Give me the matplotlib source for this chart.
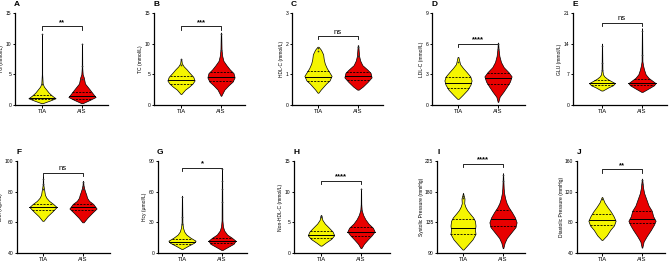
import numpy as np
import matplotlib.pyplot as plt

plt.rcParams['font.family'] = ['Liberation Sans', 'DejaVu Sans']

# panel texts
letters = ["A", "B", "C", "D", "E", "F", "G", "H", "I", "J"]
ylabels = ["TG (mmol/L)", "TC (mmol/L)", "HDL-C (mmol/L)", "LDL-C (mmol/L)", "GLU (mmol/L)",
           "BMI (Kg/m2)", "Hcy (\u03bcmol/L)", "Non-HDL-C (mmol/L)",
           "Systolic Pressure (mmHg)", "Diastolic Pressure (mmHg)"]
yticks = [[0, 5, 10, 15], [0, 5, 10, 15], [0, 1, 2, 3], [0, 3, 6, 9], [0, 7, 14, 21],
          [40, 60, 80, 100], [0, 30, 60, 90], [0, 5, 10, 15], [90, 135, 180, 225], [40, 80, 120, 160]]
groups = ["TIA", "AIS"]
sig = ["**", "***", "ns", "****", "ns", "ns", "*", "****", "****", "**"]
bracket_y = [12.8, 12.8, 2.25, 6.0, 18.8, 92.5, 83.5, 11.8, 221, 149]

# violin outlines: (values, relative half width)
tia_y = [
    [0.3, 0.7, 1.1, 1.5, 2.0, 2.5, 3.0, 3.5, 5.0, 11.5],
    [1.8, 2.5, 3.0, 3.5, 4.0, 4.6, 5.2, 5.8, 6.3, 6.8, 7.5],
    [0.4, 0.5, 0.6, 0.7, 0.8, 0.95, 1.2, 1.35, 1.5, 1.65, 1.8, 1.9],
    [0.6, 1.0, 1.5, 2.0, 2.4, 2.8, 3.2, 3.6, 4.0, 4.7],
    [3.3, 4.0, 4.5, 5.0, 5.5, 6.0, 6.5, 7.0, 8.0, 14.0],
    [61, 64, 67, 70, 72, 74, 76, 78, 81, 83, 85, 90],
    [4, 7, 10, 12, 15, 18, 21, 25, 30, 56],
    [1.2, 1.7, 2.3, 2.9, 3.5, 4.2, 4.8, 5.4, 6.2],
    [95, 102, 110, 118, 124, 130, 137, 142, 148, 153, 158, 163, 170, 175, 178],
    [57, 63, 70, 76, 82, 88, 94, 100, 106, 113],
]
tia_w = [
    [0.05, 0.55, 1.0, 0.75, 0.5, 0.32, 0.14, 0.05, 0.015, 0.01],
    [0.03, 0.3, 0.6, 0.85, 1.0, 0.9, 0.65, 0.42, 0.2, 0.06, 0.02],
    [0.03, 0.2, 0.4, 0.6, 0.85, 1.0, 0.65, 0.5, 0.42, 0.38, 0.22, 0.04],
    [0.05, 0.35, 0.7, 0.92, 1.0, 0.9, 0.65, 0.38, 0.15, 0.03],
    [0.05, 0.45, 0.8, 0.95, 0.65, 0.38, 0.18, 0.07, 0.03, 0.01],
    [0.05, 0.32, 0.68, 1.0, 0.75, 0.45, 0.25, 0.14, 0.09, 0.05, 0.02, 0.01],
    [0.05, 0.45, 0.88, 1.0, 0.62, 0.32, 0.16, 0.07, 0.03, 0.01],
    [0.05, 0.35, 0.75, 0.97, 0.85, 0.55, 0.28, 0.1, 0.02],
    [0.03, 0.35, 0.7, 0.92, 0.88, 0.92, 0.88, 0.75, 0.5, 0.3, 0.17, 0.09, 0.11, 0.04, 0.01],
    [0.03, 0.35, 0.6, 0.88, 1.0, 0.85, 0.65, 0.4, 0.18, 0.02],
]
ais_y = [
    [0.3, 0.8, 1.3, 1.8, 2.5, 3.5, 4.5, 5.0, 6.0, 10.0],
    [1.5, 2.5, 3.2, 3.8, 4.5, 5.2, 5.8, 6.5, 7.2, 8.0, 9.0, 11.8],
    [0.5, 0.6, 0.75, 0.9, 1.05, 1.15, 1.3, 1.45, 1.6, 1.95],
    [0.3, 0.8, 1.3, 1.8, 2.3, 2.8, 3.2, 3.7, 4.2, 4.8, 5.5, 6.1],
    [3.0, 3.8, 4.5, 5.0, 5.5, 6.2, 7.0, 8.0, 9.0, 10.0, 17.5],
    [60, 63, 66, 69, 72, 74, 76, 78, 80, 82, 84, 87],
    [3, 6, 9, 12, 15, 18, 22, 26, 32, 82],
    [0.8, 1.5, 2.2, 2.9, 3.5, 4.1, 4.8, 5.5, 6.2, 7.0, 8.0, 10.5],
    [97, 105, 112, 120, 128, 135, 142, 150, 157, 163, 170, 178, 185, 195, 207],
    [47, 55, 62, 70, 77, 82, 88, 95, 102, 110, 118, 125, 137],
]
ais_w = [
    [0.05, 0.55, 1.0, 0.82, 0.58, 0.22, 0.13, 0.05, 0.02, 0.01],
    [0.02, 0.25, 0.55, 0.85, 1.0, 0.92, 0.65, 0.4, 0.18, 0.09, 0.04, 0.015],
    [0.05, 0.35, 0.7, 1.0, 0.92, 0.7, 0.32, 0.16, 0.08, 0.02],
    [0.02, 0.12, 0.4, 0.65, 0.88, 1.0, 0.78, 0.42, 0.22, 0.1, 0.04, 0.015],
    [0.05, 0.5, 0.88, 1.0, 0.78, 0.48, 0.27, 0.16, 0.08, 0.03, 0.01],
    [0.05, 0.32, 0.65, 1.0, 0.75, 0.45, 0.3, 0.24, 0.16, 0.09, 0.04, 0.01],
    [0.05, 0.45, 0.85, 1.0, 0.72, 0.38, 0.16, 0.07, 0.03, 0.01],
    [0.03, 0.22, 0.5, 0.8, 1.0, 0.88, 0.55, 0.32, 0.16, 0.05, 0.02, 0.01],
    [0.02, 0.12, 0.28, 0.6, 0.92, 1.0, 0.88, 0.65, 0.42, 0.27, 0.16, 0.08, 0.05, 0.03, 0.01],
    [0.02, 0.12, 0.35, 0.65, 0.88, 1.0, 0.82, 0.72, 0.48, 0.32, 0.16, 0.08, 0.01],
]

# quartiles [Q1, median, Q3]
tia_q = [[0.9, 1.2, 1.7], [3.4, 4.1, 4.8], [0.78, 0.92, 1.1], [1.7, 2.2, 2.7], [4.5, 5.0, 5.6],
         [68, 70, 72], [9, 11, 14], [2.4, 3.0, 3.6], [118, 127, 140], [76, 83.5, 91]]
ais_q = [[1.0, 1.5, 2.1], [3.9, 4.6, 5.4], [0.8, 0.93, 1.08], [2.1, 2.6, 3.1], [4.5, 5.0, 5.9],
         [68, 70, 72], [9.5, 12, 15], [2.8, 3.5, 4.2], [130, 140, 153], [79, 85, 95]]

# visible points in the tails
tia_pts = [[3.5, 11.5], [6.5, 7.5], [1.75, 1.85], [4.2], [8.0, 9.5, 13.5],
           [82, 85, 88], [28, 35, 55], [5.8, 6.1], [170, 173], [110]]
ais_pts = [[4.3, 6.3, 10.0], [9.0, 11.5], [1.6, 1.9], [5.5, 6.0], [11.5, 17.0],
           [82, 84, 86], [50, 63, 70, 82], [7.0, 10.5], [195, 205], [130, 135]]

# layout in pixels: spine x, x-axis end, TIA centre, AIS centre, row
layout = [(15, 108, 42, 82, 0), (154, 245, 181, 221, 0), (292, 383, 318, 358, 0),
          (432, 525, 458, 498, 0), (573, 667, 602, 642, 0),
          (17, 110, 43, 83, 1), (158, 247, 182, 222, 1), (294, 390, 321, 361, 1),
          (437, 525, 463, 503, 1), (577, 665, 602, 642, 1)]
row_bottom = [105, 253]
W, H = 669, 263
colors = ["#F5F500", "#E80000"]
max_half = 0.34

fig = plt.figure(figsize=(W / 100, H / 100), dpi=100)


def draw_violin(ax, x, ys, ws, q, pts, color):
    ys = np.array(ys, dtype=float)
    ws = np.array(ws, dtype=float) * max_half
    ax.fill_betweenx(ys, x - ws, x + ws, facecolor=color, edgecolor="black", linewidth=0.5, zorder=2)
    for i, v in enumerate(q):
        hw = np.interp(v, ys, ws)
        ax.plot([x - hw, x + hw], [v, v], color="black",
                linewidth=0.7 if i == 1 else 0.6, linestyle="-" if i == 1 else (0, (2.5, 1.5)), zorder=3)
    ax.scatter([x] * len(pts), pts, s=1.5, color="#333333", zorder=4, linewidths=0)


for i in range(10):
    left, right, tx, axx, row = layout[i]
    unit = axx - tx
    ax = fig.add_axes([left / W, (H - row_bottom[row]) / H, (right - left) / W, 92 / H])
    ax.set_xlim(-(tx - left) / unit, 1 + (right - axx) / unit)
    yt = yticks[i]
    ax.set_ylim(yt[0], yt[-1])
    draw_violin(ax, 0, tia_y[i], tia_w[i], tia_q[i], tia_pts[i], colors[0])
    draw_violin(ax, 1, ais_y[i], ais_w[i], ais_q[i], ais_pts[i], colors[1])

    # significance bracket
    span = yt[-1] - yt[0]
    by = bracket_y[i]
    ax.plot([0, 0, 1, 1], [by - 0.035 * span, by, by, by - 0.035 * span],
            color="black", linewidth=0.6, clip_on=False)
    ax.text(0.5, by + 0.005 * span, sig[i], ha="center", va="bottom", fontsize=5.5,
            fontweight="bold" if sig[i] != "ns" else "normal")

    ax.set_yticks(yt)
    ax.set_xticks([0, 1])
    ax.set_xticklabels(groups, fontsize=4.2)
    ax.tick_params(axis="y", labelsize=3.6, length=1.8, width=0.7, pad=0.8)
    ax.tick_params(axis="x", length=1.8, width=0.7, pad=1.2)
    ax.set_ylabel(ylabels[i], fontsize=3.6, labelpad=1)
    for s in ["top", "right"]:
        ax.spines[s].set_visible(False)
    for s in ["left", "bottom"]:
        ax.spines[s].set_linewidth(0.9)

    label_y = 5 if row == 0 else 152
    fig.text((left + 2) / W, 1 - label_y / H, letters[i], fontsize=6, fontweight="bold",
             ha="center", va="center")

fig.savefig("out.png", dpi=100)
